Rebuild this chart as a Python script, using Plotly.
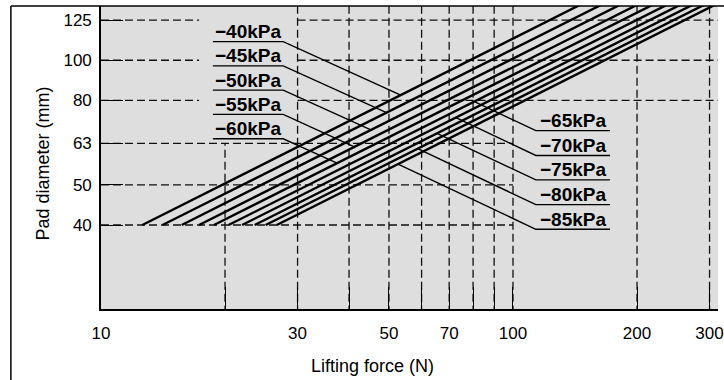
import numpy as np
import plotly.graph_objects as go

# ---------------- data ----------------
pressure_labels = ["−40kPa", "−45kPa", "−50kPa", "−55kPa", "−60kPa",
                   "−65kPa", "−70kPa", "−75kPa", "−80kPa", "−85kPa"]
# pad diameter at the start (40 mm) and past the top of the chart (140 mm)
line_diameters = [40, 140]
# lifting force (N) read at 40 mm pad diameter, per pressure
force_at_40mm = [12.6, 14.1, 15.7, 17.3, 18.8, 20.4, 22.0, 23.6, 25.1, 26.7]
# lifting force (N) at 140 mm pad diameter (beyond the top edge)
force_at_140mm = [153.9, 173.2, 192.4, 211.7, 230.9, 250.1, 269.4, 288.6, 307.9, 327.1]

x_tickvals = [10, 20, 30, 40, 50, 60, 70, 80, 90, 100, 200, 300]
x_ticktext = ["10", "", "30", "", "50", "", "70", "", "", "100", "200", "300"]
y_tickvals = [40, 50, 63, 80, 100, 125]
y_ticktext = ["40", "50", "63", "80", "100", "125"]

# ---------------- label layout (callouts) ----------------
left_ul_force = [18.69, 27.69]                     # underline extent (N)
left_ul_diam = [110.9, 96.9, 84.7, 74.0, 64.6]     # underline level (mm)
left_leader_force = [53.4, 49.3, 45.2, 41.2, 37.4]  # where leader meets its line
right_ul_force = [113.6, 172.0]
right_ul_diam = [67.6, 58.9, 51.4, 44.8, 39.05]
right_leader_force = [80.6, 72.7, 65.4, 58.7, 52.6]

# grid segments (dashed)
h_grid = [(125, 10, 17.3), (125, 30, 330), (100, 10, 17.3), (100, 30, 330),
          (80, 10, 17.3), (80, 30, 330), (63, 10, 100), (50, 10, 100), (40, 10, 100)]
v_grid = [(20, 20, 63)] + [(v, 20, 150) for v in [30, 40, 50, 60, 70, 80, 90, 100, 200, 300]]

FONT = "Liberation Sans, Arial, Helvetica, sans-serif"
DASH = "8px,4px"

fig = go.Figure()

for (yv, x0, x1) in h_grid:
    fig.add_trace(go.Scatter(x=[x0, x1], y=[yv, yv], mode="lines",
                             line=dict(color="#111", width=1.3, dash=DASH),
                             hoverinfo="skip", showlegend=False))
for (xv, y0, y1) in v_grid:
    fig.add_trace(go.Scatter(x=[xv, xv], y=[y0, y1], mode="lines",
                             line=dict(color="#111", width=1.3, dash=DASH),
                             hoverinfo="skip", showlegend=False))

for i, lab in enumerate(pressure_labels):
    fig.add_trace(go.Scatter(x=[force_at_40mm[i], force_at_140mm[i]], y=line_diameters,
                             mode="lines", line=dict(color="black", width=2.4),
                             name=lab, showlegend=False))


def diam_on_line(i, f):
    lx = np.log10([force_at_40mm[i], force_at_140mm[i]])
    ly = np.log10(line_diameters)
    return 10 ** np.interp(np.log10(f), lx, ly)


annotations = []
for k in range(5):
    i = k
    f_end = left_leader_force[k]
    d_end = diam_on_line(i, f_end)
    fig.add_trace(go.Scatter(x=[left_ul_force[0], left_ul_force[1], f_end],
                             y=[left_ul_diam[k], left_ul_diam[k], d_end],
                             mode="lines", line=dict(color="black", width=1.4),
                             hoverinfo="skip", showlegend=False))
    annotations.append(dict(x=np.mean(np.log10(left_ul_force)), y=np.log10(left_ul_diam[k]),
                            xref="x", yref="y", text="<b>%s</b>" % pressure_labels[i],
                            showarrow=False, xanchor="center", yanchor="middle", yshift=10,
                            font=dict(family=FONT, size=19, color="black")))
for k in range(5):
    i = k + 5
    f_start = right_leader_force[k]
    d_start = diam_on_line(i, f_start)
    fig.add_trace(go.Scatter(x=[f_start, right_ul_force[0], right_ul_force[1]],
                             y=[d_start, right_ul_diam[k], right_ul_diam[k]],
                             mode="lines", line=dict(color="black", width=1.4),
                             hoverinfo="skip", showlegend=False))
    annotations.append(dict(x=np.mean(np.log10(right_ul_force)), y=np.log10(right_ul_diam[k]),
                            xref="x", yref="y", text="<b>%s</b>" % pressure_labels[i],
                            showarrow=False, xanchor="center", yanchor="middle", yshift=10,
                            font=dict(family=FONT, size=19, color="black")))

# axis titles
annotations.append(dict(x=(375 - 101) / 623, y=(309 - 366) / 303, xref="paper", yref="paper",
                        text="Lifting force (N)", showarrow=False, xanchor="center", yanchor="middle",
                        font=dict(family=FONT, size=18, color="black")))
annotations.append(dict(x=(42 - 101) / 623, y=(309 - 164) / 303, xref="paper", yref="paper",
                        text="Pad diameter (mm)", showarrow=False, xanchor="center", yanchor="middle",
                        textangle=-90, font=dict(family=FONT, size=18, color="black")))

axis_common = dict(type="log", showgrid=False, zeroline=False, showline=True,
                   linecolor="black", linewidth=1.6, ticks="inside", ticklen=22,
                   tickwidth=1.3, tickcolor="black", mirror=False,
                   ticklabeloverflow="allow",
                   tickfont=dict(family=FONT, size=17, color="black"))

fig.update_layout(
    width=724, height=380,
    margin=dict(l=101, r=0, t=6, b=71),
    paper_bgcolor="white", plot_bgcolor="#dedede",
    showlegend=False,
    xaxis=dict(range=[1, 1 + 623 / 416], tickmode="array", tickvals=x_tickvals,
               ticktext=x_ticktext, ticklabelstandoff=8, **axis_common),
    yaxis=dict(range=[1.39916, 2.13105], tickmode="array", tickvals=y_tickvals,
               ticktext=y_ticktext, ticklabelstandoff=4, **axis_common),
    annotations=annotations,
    shapes=[
        dict(type="line", xref="paper", yref="paper", x0=(10 - 101) / 623, x1=(10 - 101) / 623,
             y0=1, y1=-0.35, line=dict(color="black", width=1.5)),
        dict(type="line", xref="paper", yref="paper", x0=(10 - 101) / 623, x1=1.1,
             y0=1, y1=1, line=dict(color="black", width=1.6)),
    ],
)

fig.write_html("out.html", config={"displayModeBar": False},
               post_script="document.body.style.margin='0';document.body.style.overflow='hidden';")
